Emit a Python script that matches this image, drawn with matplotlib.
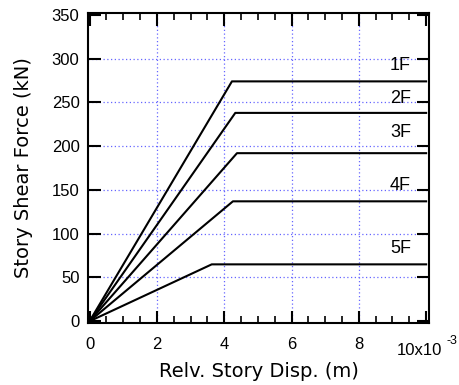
import matplotlib
matplotlib.use('Agg')
import matplotlib.pyplot as plt
from matplotlib.ticker import MultipleLocator

plt.rcParams['font.family'] = ['Liberation Sans', 'DejaVu Sans']

# yield points of each floor (disp in m, shear in kN)
floors = ['1F', '2F', '3F', '4F', '5F']
yield_disp = [4.23e-3, 4.33e-3, 4.38e-3, 4.26e-3, 3.63e-3]
yield_force = [274, 238, 192, 137, 65]
end_disp = 10.0e-3
label_y = [292, 255, 216, 155, 83]

fig = plt.figure(figsize=(4.6, 3.85), dpi=100)
ax = fig.add_axes([0.191, 0.161, 0.742, 0.805])

for d, f in zip(yield_disp, yield_force):
    ax.plot([0, d, end_disp], [0, f, f], color='black', lw=1.5, zorder=3)

for name, y in zip(floors, label_y):
    ax.text(9.55e-3, y, name, ha='right', va='center', fontsize=13, zorder=4)

ax.set_xlim(-0.05e-3, 10.09e-3)
ax.set_ylim(-2, 352)
ax.set_xticks([0, 2e-3, 4e-3, 6e-3, 8e-3, 10e-3])
ax.set_xticklabels(['0', '2', '4', '6', '8', ''])
ax.xaxis.set_minor_locator(MultipleLocator(0.5e-3))
ax.set_yticks([0, 50, 100, 150, 200, 250, 300, 350])

ax.grid(True, which='major', color='#6666ff', linestyle=(0, (1, 2)), lw=0.9)
for g in ax.get_xgridlines()[::5]:
    g.set_visible(False)
for g in ax.get_ygridlines()[::7]:
    g.set_visible(False)

ax.tick_params(which='major', direction='in', length=9, width=1.5,
               top=True, right=True, labelsize=12, pad=6)
ax.tick_params(axis='x', which='major', pad=10)
ax.tick_params(which='minor', direction='in', length=5, width=1.2, top=True)
for s in ax.spines.values():
    s.set_linewidth(1.5)

ax.set_xlabel('Relv. Story Disp. (m)', fontsize=14, family='DejaVu Sans')
ax.set_ylabel('Story Shear Force (kN)', fontsize=14, family='DejaVu Sans')
ax.xaxis.set_label_coords(0.5, -0.125)
ax.yaxis.set_label_coords(-0.16, 0.5)

ax.annotate('10x10', xy=(10e-3, 0), xycoords=('data', 'axes fraction'),
            xytext=(-4.5, -14.5), textcoords='offset points',
            ha='center', va='top', fontsize=12)
ax.annotate('-3', xy=(10e-3, 0), xycoords=('data', 'axes fraction'),
            xytext=(18.5, -8.5), textcoords='offset points',
            ha='center', va='top', fontsize=9)

fig.savefig('out.png', dpi=100)
